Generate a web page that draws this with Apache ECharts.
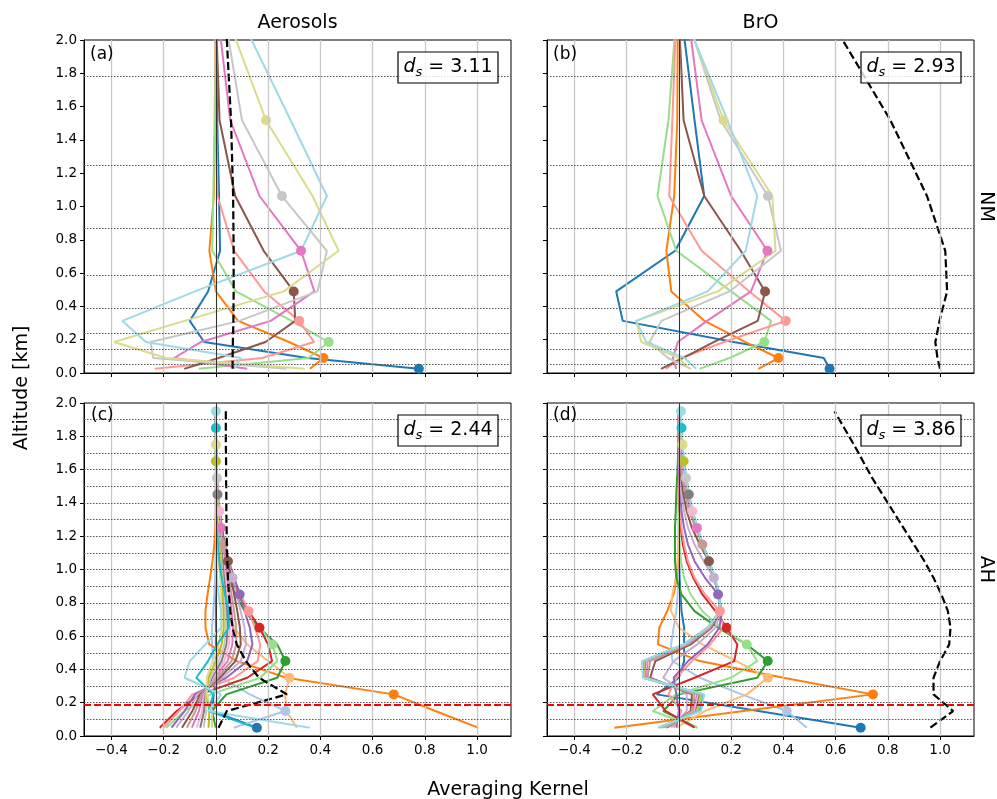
<!DOCTYPE html>
<html><head><meta charset="utf-8">
<script src="https://cdn.jsdelivr.net/npm/echarts@6/dist/echarts.min.js"></script>
<style>html,body{margin:0;padding:0;background:#fff}#chart{width:997px;height:799px}</style>
</head><body><div id="chart"></div><script>
const FONT = 'DejaVu Sans';

// ---------- axes / annotations ----------
const xTicks = [-0.4, -0.2, 0.0, 0.2, 0.4, 0.6, 0.8, 1.0];
const nmAlt = [0.025, 0.09, 0.186, 0.313, 0.49, 0.734, 1.063, 1.518, 2.15];
const ahAlt = [0.05, 0.15, 0.25, 0.35, 0.45, 0.55, 0.65, 0.75, 0.85, 0.95, 1.05, 1.15, 1.25, 1.35, 1.45, 1.55, 1.65, 1.75, 1.85, 1.95];
const nmBoundaries = [0.048, 0.135, 0.237, 0.393, 0.587, 0.874, 1.251, 1.784];
const ahBoundaries = [0.1, 0.2, 0.3, 0.4, 0.5, 0.6, 0.7, 0.8, 0.9, 1.0, 1.1, 1.2, 1.3, 1.4, 1.5, 1.6, 1.7, 1.8, 1.9];
const mixingHeight = 0.188;
const dsValues = ['3.11', '2.93', '2.44', '3.86'];
const panelLetters = ['(a)', '(b)', '(c)', '(d)'];
const colTitles = ['Aerosols', 'BrO'];
const rowTitles = ['NM', 'AH'];

const nmColors = ['#1f77b4', '#ff7f0e', '#98df8a', '#ff9896', '#8c564b', '#e377c2', '#c7c7c7', '#dbdb8d', '#9edae5'];
const ahColors = ['#1f77b4', '#aec7e8', '#ff7f0e', '#ffbb78', '#2ca02c', '#98df8a', '#d62728', '#ff9896', '#9467bd', '#c5b0d5',
  '#8c564b', '#c49c94', '#e377c2', '#f7b6d2', '#7f7f7f', '#c7c7c7', '#bcbd22', '#dbdb8d', '#17becf', '#9edae5'];

// ---------- (a) Aerosols, NM ----------
const aBlue = [0.777, 0.35, -0.045, -0.10, -0.03, 0.016, 0.012, 0.005, 0.0];
const aOrange = [0.36, 0.412, 0.28, 0.085, 0.0, -0.025, -0.008, -0.003, 0.0];
const aLightGreen = [-0.066, 0.355, 0.432, 0.29, 0.077, -0.014, -0.01, -0.005, 0.0];
const aSalmon = [-0.234, 0.178, 0.376, 0.319, 0.185, 0.07, 0.006, 0.0, -0.002];
const aBrown = [-0.121, 0.01, 0.19, 0.304, 0.298, 0.183, 0.074, 0.014, 0.0];
const aPink = [0.12, -0.16, -0.058, 0.21, 0.377, 0.326, 0.167, 0.055, 0.008];
const aGray = [0.27, -0.24, -0.25, 0.09, 0.389, 0.425, 0.253, 0.1, 0.033];
const aKhaki = [0.34, -0.19, -0.39, -0.12, 0.26, 0.47, 0.37, 0.192, 0.041];
const aCyan = [0.07, 0.096, -0.268, -0.358, -0.08, 0.326, 0.425, 0.286, 0.09];
const aTotal = [0.064, 0.064, 0.065, 0.067, 0.068, 0.068, 0.066, 0.058, 0.037];

// ---------- (b) BrO, NM ----------
const bBlue = [0.577, 0.555, 0.21, -0.215, -0.24, -0.014, 0.097, 0.06, 0.01];
const bOrange = [0.304, 0.381, 0.255, 0.098, -0.029, -0.048, -0.018, -0.006, -0.004];
const bLightGreen = [0.079, 0.194, 0.327, 0.353, 0.2, -0.01, -0.082, -0.04, -0.01];
const bSalmon = [-0.05, 0.009, 0.173, 0.409, 0.27, 0.087, -0.037, -0.025, -0.01];
const bBrown = [-0.068, 0.015, 0.133, 0.302, 0.33, 0.237, 0.097, 0.018, 0.0];
const bPink = [-0.01, -0.023, -0.004, 0.108, 0.276, 0.339, 0.2, 0.087, 0.035];
const bGray = [0.047, -0.042, -0.112, -0.067, 0.194, 0.391, 0.341, 0.16, 0.028];
const bKhaki = [0.04, 0.0, -0.144, -0.163, 0.149, 0.37, 0.358, 0.171, 0.025];
const bCyan = [0.066, 0.022, -0.125, -0.163, 0.11, 0.256, 0.3, 0.186, 0.02];
const bTotal = [1.0, 0.99, 0.982, 0.998, 1.027, 1.02, 0.95, 0.81, 0.57];

// ---------- (c) Aerosols, AH ----------
const cBlue = [0.157, -0.015, -0.008, 0.0, 0.002, 0.0, 0, 0, 0, 0, 0, 0, 0, 0, 0, 0, 0, 0, 0, 0];
const cLightBlue = [0.068, 0.266, 0.13, 0.02, -0.01, -0.015, -0.015, -0.01, -0.006, -0.003, -0.001, 0, 0, 0, 0, 0, 0, 0, 0, 0];
const cOrange = [1.004, 0.84, 0.681, 0.27, 0.08, -0.025, -0.04, -0.04, -0.032, -0.022, -0.013, -0.006, -0.002, 0, 0, 0, 0, 0, 0, 0];
const cLightOrange = [0.31, 0.27, 0.265, 0.282, 0.2, 0.12, 0.07, 0.045, 0.03, 0.018, 0.01, 0.005, 0.002, 0.001, 0, 0, 0, 0, 0, 0];
const cGreen = [0.0, -0.015, 0.04, 0.235, 0.266, 0.235, 0.165, 0.11, 0.075, 0.05, 0.032, 0.02, 0.012, 0.006, 0.003, 0.001, 0, 0, 0, 0];
const cLightGreen = [-0.19, -0.12, -0.02, 0.17, 0.235, 0.217, 0.17, 0.12, 0.082, 0.055, 0.036, 0.022, 0.013, 0.007, 0.004, 0.002, 0.001, 0, 0, 0];
const cRed = [-0.215, -0.15, -0.06, 0.12, 0.215, 0.2, 0.167, 0.125, 0.088, 0.06, 0.04, 0.025, 0.015, 0.008, 0.004, 0.002, 0.001, 0, 0, 0];
const cLightRed = [-0.2, -0.14, -0.09, 0.07, 0.16, 0.17, 0.15, 0.125, 0.095, 0.068, 0.047, 0.03, 0.019, 0.011, 0.006, 0.003, 0.001, 0, 0, 0];
const cPurple = [-0.17, -0.12, -0.08, 0.04, 0.12, 0.14, 0.13, 0.11, 0.091, 0.07, 0.05, 0.033, 0.021, 0.013, 0.007, 0.004, 0.002, 0.001, 0, 0];
const cLightPurple = [-0.152, -0.105, -0.07, 0.025, 0.095, 0.115, 0.11, 0.095, 0.08, 0.064, 0.049, 0.034, 0.022, 0.014, 0.008, 0.004, 0.002, 0.001, 0, 0];
const cBrown = [-0.13, -0.09, -0.06, 0.015, 0.075, 0.095, 0.092, 0.082, 0.07, 0.058, 0.046, 0.034, 0.023, 0.015, 0.009, 0.005, 0.003, 0.001, 0, 0];
const cLightBrown = [-0.111, -0.078, -0.055, 0.005, 0.06, 0.078, 0.078, 0.07, 0.06, 0.05, 0.04, 0.029, 0.021, 0.014, 0.009, 0.005, 0.003, 0.001, 0, 0];
const cPink = [-0.092, -0.065, -0.05, -0.005, 0.045, 0.063, 0.065, 0.06, 0.052, 0.043, 0.034, 0.026, 0.019, 0.013, 0.008, 0.005, 0.003, 0.001, 0, 0];
const cLightPink = [-0.073, -0.053, -0.045, -0.01, 0.032, 0.05, 0.054, 0.05, 0.044, 0.037, 0.029, 0.022, 0.017, 0.013, 0.008, 0.005, 0.003, 0.001, 0, 0];
const cGray = [-0.06, -0.045, -0.042, -0.015, 0.022, 0.04, 0.045, 0.042, 0.037, 0.031, 0.025, 0.019, 0.014, 0.01, 0.006, 0.004, 0.002, 0.001, 0, 0];
const cLightGray = [-0.047, -0.037, -0.04, -0.02, 0.012, 0.032, 0.038, 0.036, 0.031, 0.026, 0.021, 0.016, 0.012, 0.008, 0.006, 0.004, 0.002, 0.001, 0, 0];
const cOlive = [-0.028, -0.025, -0.037, -0.028, 0.0, 0.022, 0.03, 0.029, 0.026, 0.022, 0.018, 0.013, 0.01, 0.007, 0.005, 0.003, 0.0, 0.001, 0, 0];
const cLightOlive = [-0.015, -0.015, -0.035, -0.035, -0.012, 0.012, 0.022, 0.022, 0.02, 0.017, 0.014, 0.011, 0.008, 0.006, 0.004, 0.002, 0.001, 0.0, 0, 0];
const cCyan = [0.15, -0.028, -0.01, -0.075, -0.03, 0.005, 0.05, 0.05, 0.035, 0.022, 0.013, 0.008, 0.005, 0.003, 0.002, 0.001, 0, 0, 0.0, 0];
const cLightCyan = [0.36, -0.028, 0.02, -0.12, -0.1, -0.04, 0.02, 0.02, 0.01, 0.005, 0.002, 0.001, 0, 0, 0, 0, 0, 0, 0, 0];
const cTotal = [0.01, 0.042, 0.272, 0.165, 0.115, 0.08, 0.064, 0.055, 0.05, 0.046, 0.044, 0.042, 0.041, 0.04, 0.04, 0.039, 0.039, 0.038, 0.038, 0.038];

// ---------- (d) BrO, AH ----------
const dBlue = [0.696, 0.305, -0.085, 0.0, 0.02, 0.02, 0.02, 0.01, 0.006, 0.003, 0.001, 0, 0, 0, 0, 0, 0, 0, 0, 0];
const dLightBlue = [0.49, 0.413, 0.24, 0.08, -0.025, -0.03, -0.02, -0.01, -0.005, -0.002, 0, 0, 0, 0, 0, 0, 0, 0, 0, 0];
const dOrange = [-0.247, 0.248, 0.743, 0.40, 0.08, -0.08, -0.075, -0.045, -0.02, -0.008, -0.003, 0, 0, 0, 0, 0, 0, 0, 0, 0];
const dLightOrange = [-0.01, 0.1, 0.26, 0.341, 0.22, 0.09, 0.0, -0.03, -0.025, -0.012, -0.005, -0.002, 0, 0, 0, 0, 0, 0, 0, 0];
const dGreen = [0.07, -0.06, 0.0, 0.3, 0.34, 0.26, 0.15, 0.06, 0.01, -0.01, -0.015, -0.015, -0.015, -0.012, -0.01, -0.007, -0.004, -0.002, -0.001, 0];
const dLightGreen = [0.07, -0.1, -0.01, 0.2, 0.3, 0.26, 0.16, 0.09, 0.045, 0.02, 0.008, 0.003, 0.001, 0, 0, 0, 0, 0, 0, 0];
const dRed = [0.06, -0.05, -0.1, 0.06, 0.212, 0.224, 0.183, 0.14, 0.09, 0.055, 0.03, 0.015, 0.007, 0.003, 0.001, 0, 0, 0, 0, 0];
const dLightRed = [-0.02, 0.01, -0.04, -0.01, 0.05, 0.12, 0.17, 0.157, 0.1, 0.06, 0.035, 0.02, 0.01, 0.005, 0.002, 0.001, 0, 0, 0, 0];
const dPurple = [-0.01, 0.0, -0.01, -0.02, 0.035, 0.11, 0.155, 0.165, 0.15, 0.1, 0.06, 0.035, 0.02, 0.01, 0.005, 0.002, 0, 0, 0, 0];
const dLightPurple = [-0.03, 0.03, 0.03, -0.06, -0.02, 0.07, 0.14, 0.16, 0.152, 0.134, 0.095, 0.06, 0.035, 0.02, 0.01, 0.005, 0.002, 0, 0, 0];
const dBrown = [-0.045, 0.045, 0.05, -0.11, -0.09, 0.045, 0.125, 0.158, 0.152, 0.134, 0.115, 0.08, 0.05, 0.03, 0.017, 0.009, 0.004, 0.002, 0, 0];
const dLightBrown = [-0.05, 0.05, 0.06, -0.12, -0.11, 0.035, 0.12, 0.158, 0.152, 0.135, 0.113, 0.09, 0.063, 0.04, 0.024, 0.013, 0.007, 0.003, 0.001, 0];
const dPink = [-0.055, 0.055, 0.07, -0.125, -0.12, 0.03, 0.115, 0.158, 0.152, 0.135, 0.114, 0.089, 0.069, 0.048, 0.03, 0.018, 0.01, 0.005, 0.002, 0.001];
const dLightPink = [-0.06, 0.06, 0.075, -0.13, -0.125, 0.025, 0.112, 0.158, 0.153, 0.136, 0.115, 0.09, 0.068, 0.051, 0.035, 0.022, 0.013, 0.007, 0.003, 0.001];
const dGray = [-0.065, 0.065, 0.08, -0.132, -0.13, 0.022, 0.11, 0.158, 0.153, 0.136, 0.115, 0.09, 0.069, 0.05, 0.038, 0.026, 0.016, 0.009, 0.004, 0.002];
const dLightGray = [-0.068, 0.07, 0.085, -0.134, -0.133, 0.021, 0.11, 0.158, 0.153, 0.136, 0.116, 0.091, 0.07, 0.051, 0.037, 0.027, 0.018, 0.011, 0.006, 0.003];
const dOlive = [-0.072, 0.075, 0.088, -0.135, -0.135, 0.02, 0.11, 0.158, 0.154, 0.137, 0.116, 0.091, 0.07, 0.052, 0.038, 0.027, 0.018, 0.013, 0.008, 0.004];
const dLightOlive = [-0.075, 0.078, 0.092, -0.136, -0.137, 0.02, 0.11, 0.158, 0.154, 0.137, 0.117, 0.092, 0.071, 0.052, 0.038, 0.027, 0.018, 0.014, 0.01, 0.005];
const dCyan = [-0.078, 0.08, 0.095, -0.137, -0.139, 0.02, 0.11, 0.158, 0.154, 0.137, 0.117, 0.092, 0.071, 0.052, 0.039, 0.028, 0.019, 0.014, 0.01, 0.007];
const dLightCyan = [-0.08, 0.085, 0.097, -0.138, -0.141, 0.02, 0.11, 0.158, 0.155, 0.138, 0.117, 0.092, 0.071, 0.052, 0.039, 0.028, 0.019, 0.014, 0.01, 0.008];
const dTotal = [0.963, 1.05, 0.975, 0.975, 1.0, 1.035, 1.04, 1.03, 1.005, 0.975, 0.94, 0.9, 0.86, 0.82, 0.78, 0.74, 0.705, 0.67, 0.633, 0.596];

const panels = [
  { alt: nmAlt, colors: nmColors, bounds: nmBoundaries, hline: false, total: aTotal,
    curves: [aBlue, aOrange, aLightGreen, aSalmon, aBrown, aPink, aGray, aKhaki, aCyan] },
  { alt: nmAlt, colors: nmColors, bounds: nmBoundaries, hline: false, total: bTotal,
    curves: [bBlue, bOrange, bLightGreen, bSalmon, bBrown, bPink, bGray, bKhaki, bCyan] },
  { alt: ahAlt, colors: ahColors, bounds: ahBoundaries, hline: true, total: cTotal,
    curves: [cBlue, cLightBlue, cOrange, cLightOrange, cGreen, cLightGreen, cRed, cLightRed, cPurple, cLightPurple,
      cBrown, cLightBrown, cPink, cLightPink, cGray, cLightGray, cOlive, cLightOlive, cCyan, cLightCyan] },
  { alt: ahAlt, colors: ahColors, bounds: ahBoundaries, hline: true, total: dTotal,
    curves: [dBlue, dLightBlue, dOrange, dLightOrange, dGreen, dLightGreen, dRed, dLightRed, dPurple, dLightPurple,
      dBrown, dLightBrown, dPink, dLightPink, dGray, dLightGray, dOlive, dLightOlive, dCyan, dLightCyan] }
];

const gridPos = [
  { left: 84, top: 40 }, { left: 547, top: 40 }, { left: 84, top: 403 }, { left: 547, top: 403 }
];
const fmt = v => (Math.abs(v) < 1e-9 ? '0.0' : (v < 0 ? '\u2212' + Math.abs(v).toFixed(1) : v.toFixed(1)));

const grids = gridPos.map(g => ({ left: g.left, top: g.top, width: 427, height: 333, show: true,
  borderColor: '#000', borderWidth: 1, backgroundColor: 'transparent', containLabel: false }));

const xAxes = gridPos.map((g, i) => ({
  gridIndex: i, type: 'value', min: -0.505, max: 1.13,
  axisLine: { show: true, onZero: false, lineStyle: { color: '#000', width: 1 } },
  axisTick: { show: true, customValues: xTicks, length: 4, lineStyle: { color: '#000', width: 1 } },
  axisLabel: { show: i >= 2, customValues: xTicks, formatter: fmt, fontSize: 13.5, color: '#000', fontFamily: FONT, margin: 7 },
  splitLine: { show: false }
}));
const yAxes = gridPos.map((g, i) => ({
  gridIndex: i, type: 'value', min: 0, max: 2, interval: 0.2,
  axisLine: { show: true, onZero: false, lineStyle: { color: '#000', width: 1 } },
  axisTick: { show: true, length: 4, lineStyle: { color: '#000', width: 1 } },
  axisLabel: { show: i % 2 === 0, formatter: v => v.toFixed(1), fontSize: 13.5, color: '#000', fontFamily: FONT, margin: 7 },
  splitLine: { show: false }
}));

const series = [];
panels.forEach((p, i) => {
  series.push({
    type: 'line', xAxisIndex: i, yAxisIndex: i, data: [], z: 1, silent: true,
    markLine: {
      silent: true, symbol: ['none', 'none'], label: { show: false }, animation: false,
      data: [
        ...xTicks.map(v => ({ xAxis: v, lineStyle: { color: '#c8c8c8', width: 1.3, type: 'solid' } })),
        ...p.bounds.map(v => ({ yAxis: v, lineStyle: { color: '#555', width: 1, type: [1.5, 1.5] } })),
        { xAxis: 0, lineStyle: { color: '#333', width: 1, type: 'solid' } }
      ]
    }
  });
  p.curves.forEach((c, k) => {
    const color = p.colors[k];
    series.push({
      type: 'line', xAxisIndex: i, yAxisIndex: i, z: 2, symbol: 'none', showSymbol: false, clip: true,
      lineStyle: { color: color, width: 2 }, itemStyle: { color: color },
      data: p.alt.map((a, j) => [c[j], a])
    });
    series.push({
      type: 'scatter', xAxisIndex: i, yAxisIndex: i, z: 2, clip: true, symbolSize: 10,
      itemStyle: { color: color, opacity: 1 },
      data: [[c[k], p.alt[k]]]
    });
  });
  series.push({
    type: 'line', xAxisIndex: i, yAxisIndex: i, z: 3, symbol: 'none', showSymbol: false, clip: true,
    lineStyle: { color: '#000', width: 2.2, type: [8, 3.5] },
    data: p.alt.map((a, j) => [p.total[j], a])
  });
  if (p.hline) {
    series.push({
      type: 'line', xAxisIndex: i, yAxisIndex: i, data: [], z: 4, silent: true,
      markLine: { silent: true, symbol: ['none', 'none'], label: { show: false }, animation: false,
        data: [{ yAxis: mixingHeight, lineStyle: { color: '#ff0000', width: 2.2, type: [7, 3] } }] }
    });
  }
});

const graphics = [];
const txt = (x, y, text, size, opts) => Object.assign({
  type: 'text', x: x, y: y, z: 100,
  style: { text: text, fontFamily: FONT, fontSize: size, fill: '#000', textAlign: 'center', textVerticalAlign: 'middle', align: 'center', verticalAlign: 'middle' }
}, opts || {});
graphics.push(txt(297.5, 23, colTitles[0], 19));
graphics.push(txt(760.5, 23, colTitles[1], 19));
graphics.push(txt(986, 206.5, rowTitles[0], 19, { rotation: -Math.PI / 2 }));
graphics.push(txt(986, 569.5, rowTitles[1], 19, { rotation: -Math.PI / 2 }));
graphics.push(txt(22, 388, 'Altitude [km]', 19, { rotation: Math.PI / 2 }));
graphics.push(txt(508, 790, 'Averaging Kernel', 19));
const letterPos = [[90, 55], [553, 55], [91, 416], [553, 416]];
const boxPos = [[398, 52], [861, 52], [398, 415], [861, 415]];
panelLetters.forEach((l, i) => {
  graphics.push({ type: 'text', x: letterPos[i][0], y: letterPos[i][1], z: 100,
    style: { text: l, fontFamily: FONT, fontSize: 17, fill: '#000', textAlign: 'left', textVerticalAlign: 'middle', align: 'left', verticalAlign: 'middle' } });
  graphics.push({ type: 'rect', z: 99, shape: { x: boxPos[i][0], y: boxPos[i][1], width: 100, height: 31 },
    style: { fill: 'rgba(255,255,255,0.8)', stroke: '#000', lineWidth: 1.2 } });
  graphics.push({ type: 'text', z: 100, x: boxPos[i][0] + 50, y: boxPos[i][1] + 15.5,
    style: {
      text: '{d|d}{s|s}{t| = ' + dsValues[i] + '}',
      textAlign: 'center', textVerticalAlign: 'middle', align: 'center', verticalAlign: 'middle',
      rich: {
        d: { fontFamily: FONT, fontStyle: 'italic', fontSize: 19, lineHeight: 24, fill: '#000' },
        s: { fontFamily: FONT, fontStyle: 'italic', fontSize: 13, lineHeight: 24, verticalAlign: 'bottom', padding: [10, 0, 0, 0], fill: '#000' },
        t: { fontFamily: FONT, fontSize: 19, lineHeight: 24, fill: '#000' }
      }
    } });
});

const chart = echarts.init(document.getElementById('chart'), null, { renderer: 'canvas' });
chart.setOption({
  animation: false,
  backgroundColor: '#fff',
  grid: grids, xAxis: xAxes, yAxis: yAxes, series: series, graphic: graphics
});
</script></body></html>
